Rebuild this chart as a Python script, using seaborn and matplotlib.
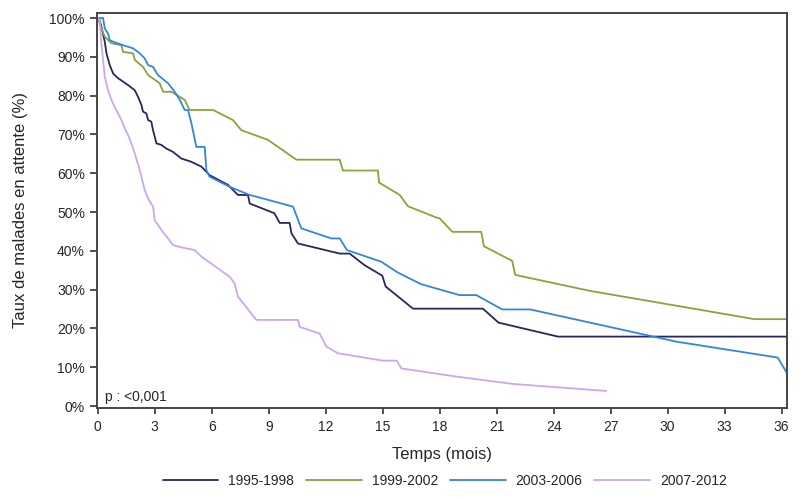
import pandas as pd
import numpy as np
import matplotlib
matplotlib.use('Agg')
import matplotlib.pyplot as plt
import seaborn as sns

# periods and colours
periods = ['1995-1998', '1999-2002', '2003-2006', '2007-2012']
colors = ['#27285c', '#84a63c', '#3385e0', '#c9a8f0']

# survival curves (months, % still waiting)
t_1995 = [0, 0.1, 0.23, 0.37, 0.46, 0.63, 0.81, 1.07, 1.6, 1.95, 2.12, 2.3, 2.38, 2.56, 2.65,
          2.82, 2.91, 3.09, 3.35, 3.6, 3.96, 4.4, 4.9, 5.46, 5.89, 6.86, 7.38, 7.91, 8.0, 9.3,
          9.58, 10.1, 10.2, 10.54, 12.74, 13.26, 14.05, 14.98, 15.16, 16.6, 20.28, 21.1, 24.23, 36.3]
s_1995 = [100, 99.5, 96.9, 93.9, 90.9, 87.9, 85.7, 84.5, 82.7, 81.4, 79.7, 77.6, 75.9, 75.4, 73.7,
          73.3, 71.1, 67.7, 67.3, 66.4, 65.5, 63.8, 63.0, 61.7, 59.5, 57.0, 54.4, 54.4, 52.2, 49.7,
          47.2, 47.2, 44.5, 41.9, 39.3, 39.3, 36.3, 33.6, 30.8, 25.1, 25.1, 21.5, 17.9, 17.9]

t_1999 = [0, 0.19, 0.37, 0.72, 1.25, 1.33, 1.86, 1.95, 2.39, 2.65, 3.26, 3.44, 3.88, 4.58, 4.84,
          6.07, 7.12, 7.56, 8.96, 10.46, 12.74, 12.91, 14.75, 14.81, 15.9, 16.33, 17.82, 18.0,
          18.67, 20.19, 20.33, 21.82, 21.98, 25.9, 34.58, 36.3]
s_1999 = [100, 97.3, 95.2, 93.5, 93.0, 91.3, 90.9, 89.2, 87.4, 85.3, 83.2, 81.0, 81.0, 78.9, 76.3,
          76.3, 73.7, 71.1, 68.6, 63.5, 63.5, 60.7, 60.7, 57.6, 54.4, 51.5, 48.6, 48.4,
          44.9, 44.9, 41.2, 37.4, 33.8, 29.7, 22.4, 22.4]

t_2003 = [0, 0.28, 0.37, 0.54, 0.63, 0.81, 1.33, 1.86, 2.21, 2.47, 2.65, 2.91, 3.17, 3.7, 4.05,
          4.32, 4.58, 4.75, 4.93, 5.19, 5.63, 5.72, 5.89, 6.95, 8.0, 8.7, 10.28, 10.72, 12.3,
          12.74, 13.12, 14.93, 15.8, 17.03, 19.05, 19.93, 21.3, 22.77, 30.46, 35.8, 36.3]
s_2003 = [100, 100, 97.3, 96.0, 94.3, 93.9, 93.0, 92.2, 90.9, 89.6, 87.9, 87.4, 85.3, 83.2, 81.0,
          78.9, 76.3, 76.3, 72.9, 66.8, 66.8, 60.8, 59.1, 56.5, 54.4, 53.5, 51.4, 45.8, 43.2,
          43.2, 40.2, 37.2, 34.4, 31.4, 28.6, 28.6, 24.9, 24.9, 16.6, 12.5, 8.4]

t_2007 = [0, 0.1, 0.19, 0.28, 0.37, 0.54, 0.72, 0.89, 1.07, 1.25, 1.42, 1.6, 1.77, 1.95, 2.21,
          2.47, 2.65, 2.91, 3.0, 3.35, 3.96, 4.4, 5.1, 5.46, 6.95, 7.21, 7.38, 7.74, 8.35, 10.54,
          10.63, 11.68, 12.04, 12.65, 15.02, 15.75, 15.98, 18.88, 21.86, 26.77]
s_2007 = [100, 99.5, 93.5, 89.2, 84.9, 81.4, 78.9, 77.1, 75.4, 73.7, 71.6, 69.8, 67.7, 65.1, 60.8,
          55.7, 53.5, 51.4, 47.9, 45.4, 41.5, 40.9, 40.2, 38.5, 33.3, 31.6, 28.2, 26.0, 22.2, 22.2,
          20.4, 18.7, 15.3, 13.6, 11.7, 11.7, 9.7, 7.6, 5.7, 3.9]

x_ticks = list(range(0, 37, 3))
y_ticks = list(range(0, 101, 10))
p_text = 'p : <0,001'

# long format table for seaborn
frames = []
for name, t, s in zip(periods, [t_1995, t_1999, t_2003, t_2007], [s_1995, s_1999, s_2003, s_2007]):
    frames.append(pd.DataFrame({'temps': t, 'taux': s, 'periode': name}))
df = pd.concat(frames, ignore_index=True)

sns.set_style('white')
plt.rcParams['font.family'] = ['Liberation Sans', 'DejaVu Sans']

fig = plt.figure(figsize=(8, 5), dpi=100)
ax = fig.add_axes([0.121, 0.184, 0.863, 0.79])

sns.lineplot(data=df, x='temps', y='taux', hue='periode', palette=dict(zip(periods, colors)),
             estimator=None, sort=False, linewidth=1.3, ax=ax)

ax.set_xlim(-0.05, 36.3)
ax.set_ylim(-0.5, 101.3)
ax.set_xticks(x_ticks)
ax.set_yticks(y_ticks)
ax.set_yticklabels([f'{v}%' for v in y_ticks])
ax.tick_params(axis='x', labelsize=10, length=4.5, width=1.2, color='#333333',
               direction='out', pad=4, bottom=True)
ax.tick_params(axis='y', labelsize=10, length=5, width=1.2, color='#333333',
               direction='out', pad=3.5, left=True)

for sp in ax.spines.values():
    sp.set_color('#444444')
    sp.set_linewidth(1.4)

ax.set_xlabel('Temps (mois)', fontsize=12)
ax.set_ylabel('Taux de malades en attente (%)', fontsize=12)
ax.xaxis.set_label_coords(0.5, -0.1)
ax.yaxis.set_label_coords(-0.1, 0.5)

ax.text(0.012, 0.018, p_text, transform=ax.transAxes, fontsize=10, va='baseline', ha='left')

handles, labels = ax.get_legend_handles_labels()
ax.legend(handles, labels, loc='center', bbox_to_anchor=(0.504, -0.185), ncol=4, frameon=False,
          fontsize=10, handlelength=4, columnspacing=0.88, handletextpad=0.7)

fig.savefig('out.png', dpi=100)
